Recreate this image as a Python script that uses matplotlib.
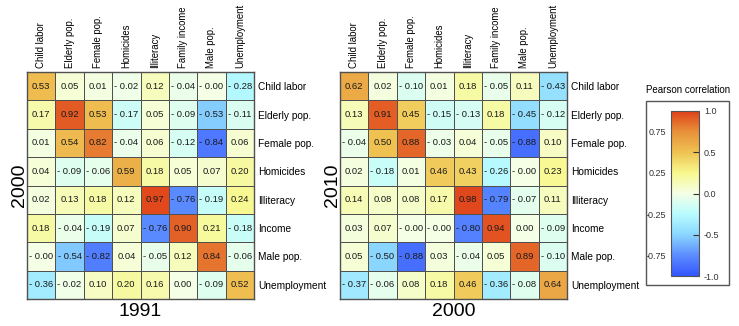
import numpy as np
import matplotlib
matplotlib.use('Agg')
import matplotlib.pyplot as plt
from matplotlib.colors import LinearSegmentedColormap
from matplotlib.patches import Rectangle

plt.rcParams['font.family'] = ['Liberation Sans', 'DejaVu Sans']

# ---------------- data ----------------
row_labels = ['Child labor', 'Elderly pop.', 'Female pop.', 'Homicides',
              'Illiteracy', 'Income', 'Male pop.', 'Unemployment']
col_labels = ['Child labor', 'Elderly pop.', 'Female pop.', 'Homicides',
              'Illiteracy', 'Family income', 'Male pop.', 'Unemployment']

corr_1991_2000 = np.array([
    [0.53, 0.05, 0.01, -0.02, 0.12, -0.04, -0.00, -0.28],
    [0.17, 0.92, 0.53, -0.17, 0.05, -0.09, -0.53, -0.11],
    [0.01, 0.54, 0.82, -0.04, 0.06, -0.12, -0.84, 0.06],
    [0.04, -0.09, -0.06, 0.59, 0.18, 0.05, 0.07, 0.20],
    [0.02, 0.13, 0.18, 0.12, 0.97, -0.76, -0.19, 0.24],
    [0.18, -0.04, -0.19, 0.07, -0.76, 0.90, 0.21, -0.18],
    [-0.00, -0.54, -0.82, 0.04, -0.05, 0.12, 0.84, -0.06],
    [-0.36, -0.02, 0.10, 0.20, 0.16, 0.00, -0.09, 0.52],
])

corr_2000_2010 = np.array([
    [0.62, 0.02, -0.10, 0.01, 0.18, -0.05, 0.11, -0.43],
    [0.13, 0.91, 0.45, -0.15, -0.13, 0.18, -0.45, -0.12],
    [-0.04, 0.50, 0.88, -0.03, 0.04, -0.05, -0.88, 0.10],
    [0.02, -0.18, 0.01, 0.46, 0.43, -0.26, -0.00, 0.23],
    [0.14, 0.08, 0.08, 0.17, 0.98, -0.79, -0.07, 0.11],
    [0.03, 0.07, -0.00, -0.00, -0.80, 0.94, 0.00, -0.09],
    [0.05, -0.50, -0.88, 0.03, -0.04, 0.05, 0.89, -0.10],
    [-0.37, -0.06, 0.08, 0.18, 0.46, -0.36, -0.08, 0.64],
])

panels = [(corr_1991_2000, '1991', '2000'), (corr_2000_2010, '2000', '2010')]

# ---------------- colormap ----------------
cmap = LinearSegmentedColormap.from_list('pearson', [
    (0.000, '#3355ff'),
    (0.125, '#5c8dff'),
    (0.250, '#8ad6ff'),
    (0.375, '#b8fcff'),
    (0.500, '#f4ffe6'),
    (0.625, '#f8f88e'),
    (0.750, '#efc252'),
    (0.875, '#e8913a'),
    (1.000, '#e0421a'),
])

edge = '#505050'

fig = plt.figure(figsize=(7.39, 3.26), dpi=100)

lefts = [27 / 739, 340 / 739]
for (data, xlab, ylab), left in zip(panels, lefts):
    ax = fig.add_axes([left, 27 / 326, 227 / 739, 227 / 326])
    n = data.shape[0]
    mesh = ax.pcolormesh(np.arange(n + 1), np.arange(n + 1), data, cmap=cmap,
                         vmin=-1, vmax=1, edgecolors=edge, linewidth=0.7)
    ax.set_xlim(0, n)
    ax.set_ylim(n, 0)
    for i in range(n):
        for j in range(n):
            v = data[i, j]
            txt = f'- {abs(v):.2f}' if np.signbit(v) else f'{v:.2f}'
            ax.text(j + 0.5, i + 0.5, txt, ha='center', va='center',
                    fontsize=6.8, color='#1a1a1a')
    ax.xaxis.tick_top()
    ax.yaxis.tick_right()
    ax.set_xticks(np.arange(n) + 0.5)
    ax.set_xticklabels(col_labels, rotation=90, fontsize=6.9)
    ax.set_yticks(np.arange(n) + 0.5)
    ax.set_yticklabels(row_labels, fontsize=7.3)
    ax.tick_params(length=0, pad=3)
    for s in ax.spines.values():
        s.set_color(edge)
        s.set_linewidth(1)
    ax.set_xlabel(xlab, fontsize=14, labelpad=3)
    ax.set_ylabel(ylab, fontsize=14, labelpad=-1)

# ---------------- colorbar ----------------
fig.patches.append(Rectangle((646 / 739, 41 / 326), 83 / 739, 184 / 326,
                             transform=fig.transFigure, fill=False,
                             edgecolor='#555555', linewidth=1))
fig.text(688 / 739, 1 - 90 / 326, 'Pearson correlation', ha='center',
         va='center', fontsize=7)

cax = fig.add_axes([671 / 739, 50 / 326, 28 / 739, 165 / 326])
cbar = fig.colorbar(mesh, cax=cax, ticks=[-1, -0.5, 0, 0.5, 1], format='%.1f')
cbar.outline.set_edgecolor('#555555')
cax.tick_params(direction='in', length=4, labelsize=6.5, colors='#333333')
left_ticks = [-0.75, -0.25, 0.25, 0.75]
sec = cax.secondary_yaxis('left')
sec.set_yticks(left_ticks)
sec.set_yticklabels([f'{t:.2f}' for t in left_ticks])
sec.tick_params(direction='in', length=4, labelsize=6.5, colors='#333333')
sec.spines['left'].set_visible(False)

fig.savefig('out.png', dpi=100)
